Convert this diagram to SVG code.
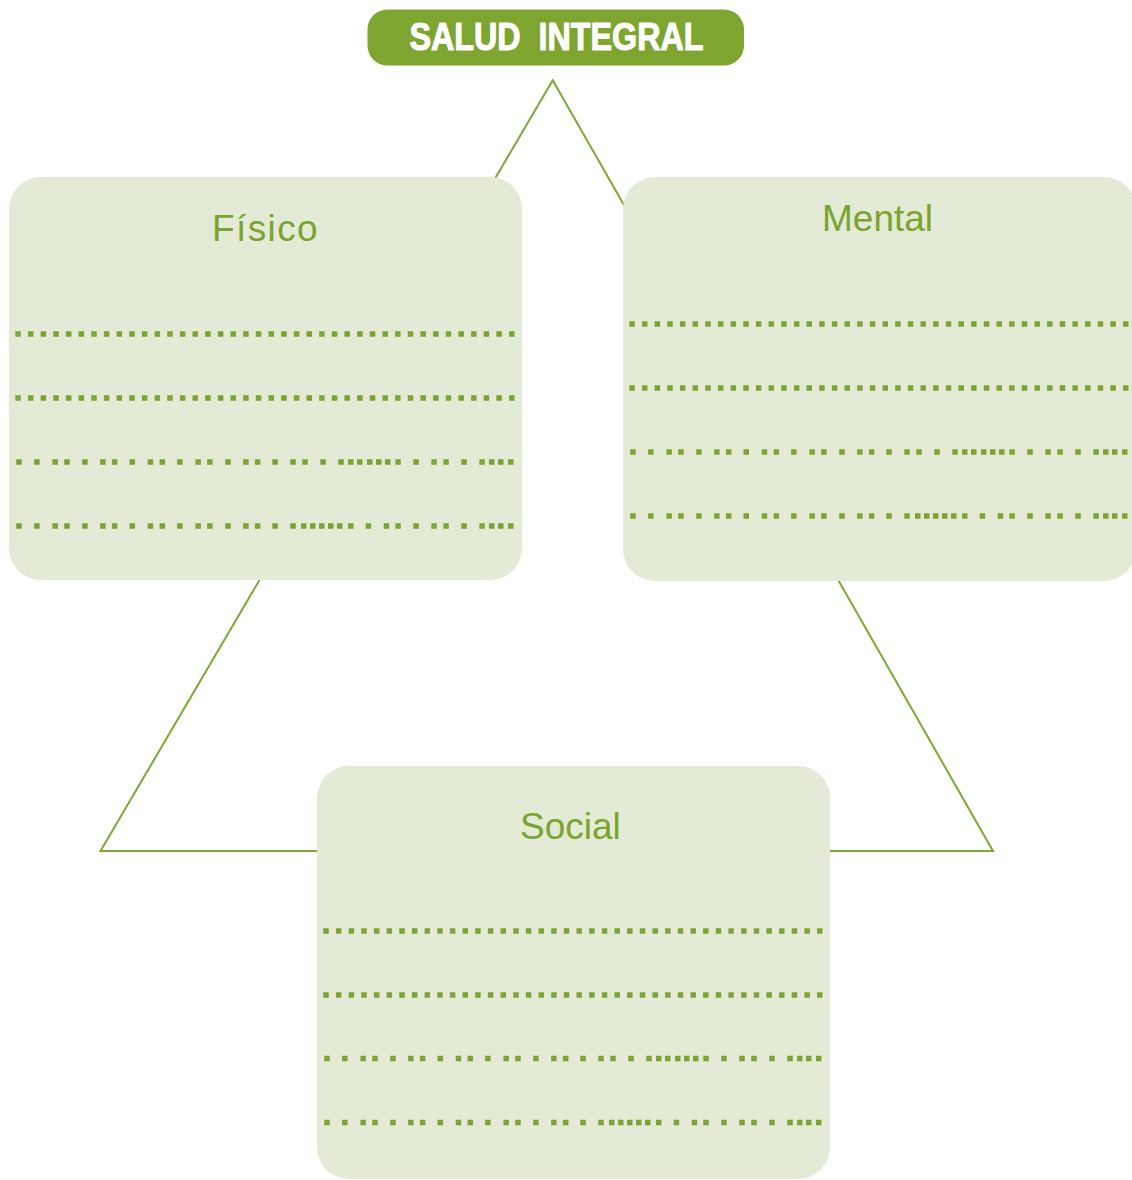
<svg xmlns="http://www.w3.org/2000/svg" xmlns:xlink="http://www.w3.org/1999/xlink" width="1132" height="1180" viewBox="0 0 1132 1180">
  <style>
    .box { fill: #E3EBD6; }
    .label { font-family: "Liberation Sans", Arial, sans-serif; font-size: 37px; fill: #7BA42E; }
    .title { font-family: "Liberation Sans", Arial, sans-serif; font-size: 38px; font-weight: bold; fill: #FFFFFF; stroke: #FFFFFF; stroke-width: 1.1; stroke-linejoin: round; }
    .dots { fill: none; stroke: #7DA432; stroke-width: 5.5; stroke-linecap: butt; }
    .even { stroke-dasharray: 5.5 7.16; }
    .conn { fill: none; stroke: #7FA735; stroke-width: 2; stroke-linejoin: miter; }
  </style>
  <defs>
    <path id="dl1" class="dots even" d="M15.3 0H514.5"/>
    <path id="dl3" class="dots" d="M16.2 0h5.5M34.1 0h5.5M52.4 0h5.5M64.2 0h5.5M82.2 0h5.5M100.1 0h5.5M111.9 0h5.5M129.5 0h5.5M147.7 0h5.5M159.6 0h5.5M177.1 0h5.5M195.4 0h5.5M207.2 0h5.5M225.2 0h5.5M243.1 0h5.5M254.9 0h5.5M272.3 0h5.5M290.3 0h5.5M302.3 0h5.5M320.3 0h5.5M338.3 0h5.5M348 0h5.5M357 0h5.5M367 0h5.5M376 0h5.5M385 0h5.5M395.3 0h5.5M413.3 0h5.5M431.3 0h5.5M443.3 0h5.5M461.3 0h5.5M479.3 0h5.5M489 0h5.5M498 0h5.5M508 0h5.5"/>
    <path id="dl4" class="dots" d="M16.2 0h5.5M34.1 0h5.5M52.4 0h5.5M64.2 0h5.5M82.2 0h5.5M100.1 0h5.5M111.9 0h5.5M129.5 0h5.5M147.7 0h5.5M159.6 0h5.5M177.1 0h5.5M195.4 0h5.5M207.2 0h5.5M225.2 0h5.5M243.1 0h5.5M254.9 0h5.5M272.3 0h5.5M290.3 0h5.5M301 0h5.5M310 0h5.5M319 0h5.5M328 0h5.5M337 0h5.5M348 0h5.5M365.7 0h5.5M383.7 0h5.5M395.3 0h5.5M413.3 0h5.5M431.3 0h5.5M443.3 0h5.5M461.3 0h5.5M479.3 0h5.5M489 0h5.5M498 0h5.5M508 0h5.5"/>
  </defs>

  <g id="connectors">
    <polygon class="conn" points="552.7,80.3 100.5,851 993,851"/>
  </g>

  <g id="salud-integral">
    <rect x="367.5" y="9.5" width="376.5" height="56" rx="20" ry="20" fill="#7EA52F"/>
    <text class="title" x="409.5" y="50" textLength="294" lengthAdjust="spacingAndGlyphs" xml:space="preserve">SALUD  INTEGRAL</text>
  </g>

  <g id="fisico">
    <rect class="box" x="9" y="177" width="513" height="403" rx="32" ry="32"/>
    <text class="label" x="212" y="241" letter-spacing="1.4">Físico</text>
    <use xlink:href="#dl1" x="0" y="334"/>
    <use xlink:href="#dl1" x="0" y="398"/>
    <use xlink:href="#dl3" x="0" y="462"/>
    <use xlink:href="#dl4" x="0" y="526"/>
  </g>

  <g id="mental">
    <rect class="box" x="623" y="177" width="513" height="404" rx="32" ry="32"/>
    <text class="label" x="822" y="231">Mental</text>
    <use xlink:href="#dl1" x="614" y="324"/>
    <use xlink:href="#dl1" x="614" y="388"/>
    <use xlink:href="#dl3" x="614" y="452"/>
    <use xlink:href="#dl4" x="614" y="516"/>
  </g>

  <g id="social">
    <rect class="box" x="317" y="766" width="513" height="413" rx="32" ry="32"/>
    <text class="label" x="520" y="838.5">Social</text>
    <use xlink:href="#dl1" x="308" y="931"/>
    <use xlink:href="#dl1" x="308" y="995"/>
    <use xlink:href="#dl3" x="308" y="1058.5"/>
    <use xlink:href="#dl4" x="308" y="1122.5"/>
  </g>
</svg>
